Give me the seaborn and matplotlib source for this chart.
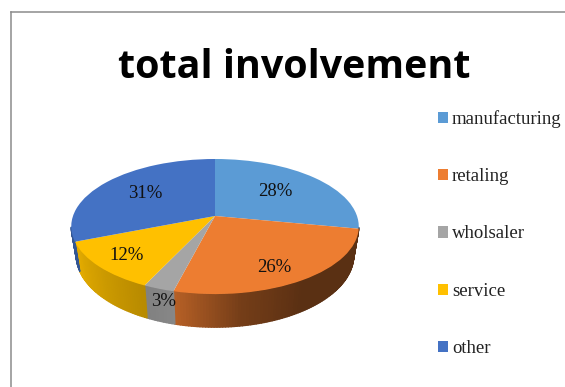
import numpy as np
import matplotlib
matplotlib.use("Agg")
import matplotlib.pyplot as plt
from matplotlib.collections import PolyCollection
from matplotlib.colors import to_rgb
from matplotlib.transforms import Transform
import seaborn as sns

categories = ["manufacturing", "retaling", "wholsaler", "service", "other"]
shares = [28, 26, 3, 12, 31]
slice_colors = ["#5B9BD5", "#ED7D31", "#A5A5A5", "#FFC000", "#4472C4"]

# Rim shading for each slice: brightness stops along its outer edge, clockwise.
rim_shades = [(0.42, 0.42), (0.38, 0.38, 0.38, 0.49, 0.77), (0.82, 0.78), (0.72, 0.9), (0.75, 0.75)]
label_positions = [(275, 192), (274, 267), (164, 302), (127, 256), (145, 193)]

CX, CY = 215.0, 216.0      # pie hub, in pixels
RX, RY = 142.0, 65.9       # disc scale
TILT = 0.156               # perspective strength
DEPTH = 27.9               # disc thickness
BASE_SHRINK = 0.965        # lower face is a little narrower


class TiltedDisc(Transform):
    """Perspective view of the unit disc laid flat."""
    input_dims = 2
    output_dims = 2

    def transform_non_affine(self, values):
        values = np.asarray(values, dtype=float)
        w = 1 + TILT * values[:, 1]
        return np.column_stack([CX + RX * values[:, 0] / w, CY - RY * values[:, 1] / w])


def rim(theta):
    u, v = np.sin(theta), np.cos(theta)
    w = 1 + TILT * v
    x = RX * u / w
    y = CY - RY * v / w
    return CX + x, y, CX + x * BASE_SHRINK, y + DEPTH / w


sns.set_theme(style="white")
palette = sns.color_palette(slice_colors)

fig = plt.figure(figsize=(5.65, 3.87), dpi=100, facecolor="white")
ax = fig.add_axes([11 / 565, 0, 554 / 565, 375 / 387])

wedges, _ = ax.pie(shares, colors=palette, startangle=90, counterclock=False)
tilt = TiltedDisc()
for wedge in wedges:
    wedge.set_transform(tilt + ax.transData)
    wedge.set_zorder(3)
    wedge.set_edgecolor("none")

ax.set_aspect("auto")
ax.set_xlim(11, 565)
ax.set_ylim(387, 12)
ax.set_frame_on(True)
for side, spine in ax.spines.items():
    spine.set_visible(side in ("top", "left"))
    spine.set_color("#8c8c8c")
    spine.set_linewidth(1.1)

# Side wall: thin quads following each slice's outer edge, front part only.
edges = np.cumsum([0] + shares) / sum(shares) * 2 * np.pi
quads, quad_colors = [], []
for i, base in enumerate(palette):
    steps = max(2, int(np.degrees(edges[i + 1] - edges[i])))
    thetas = np.linspace(edges[i], edges[i + 1], steps + 1)
    stops = rim_shades[i]
    for j in range(steps):
        a, b = thetas[j], thetas[j + 1]
        if np.cos((a + b) / 2) > -0.17:
            continue
        xa, ya, xa2, ya2 = rim(a)
        xb, yb, xb2, yb2 = rim(b)
        quads.append([(xa, ya), (xb, yb), (xb2, yb2), (xa2, ya2)])
        shade = np.interp((j + 0.5) / steps, np.linspace(0, 1, len(stops)), stops)
        quad_colors.append(tuple(c * shade for c in to_rgb(base)))
ax.add_collection(PolyCollection(quads, facecolors=quad_colors, edgecolors=quad_colors,
                                 linewidths=1.0, zorder=2))

for value, (x, y) in zip(shares, label_positions):
    ax.text(x, y, f"{value}%", ha="center", va="center", color="#111111",
            family="Liberation Serif", fontsize=13.5, zorder=4)

ax.text(294, 67.5, "total involvement", ha="center", va="center", color="black",
        family="Open Sans", fontweight="bold", fontsize=28.4)

ax.legend(wedges, categories, loc="upper left", bbox_to_anchor=(438, 110),
          bbox_transform=ax.transData, frameon=False, borderpad=0, borderaxespad=0,
          prop={"family": "Liberation Serif", "size": 13.5}, labelcolor="#222222",
          handlelength=0.55, handleheight=0.55, handletextpad=0.2, labelspacing=2.15)

fig.savefig("out.png", dpi=100, facecolor="white")
